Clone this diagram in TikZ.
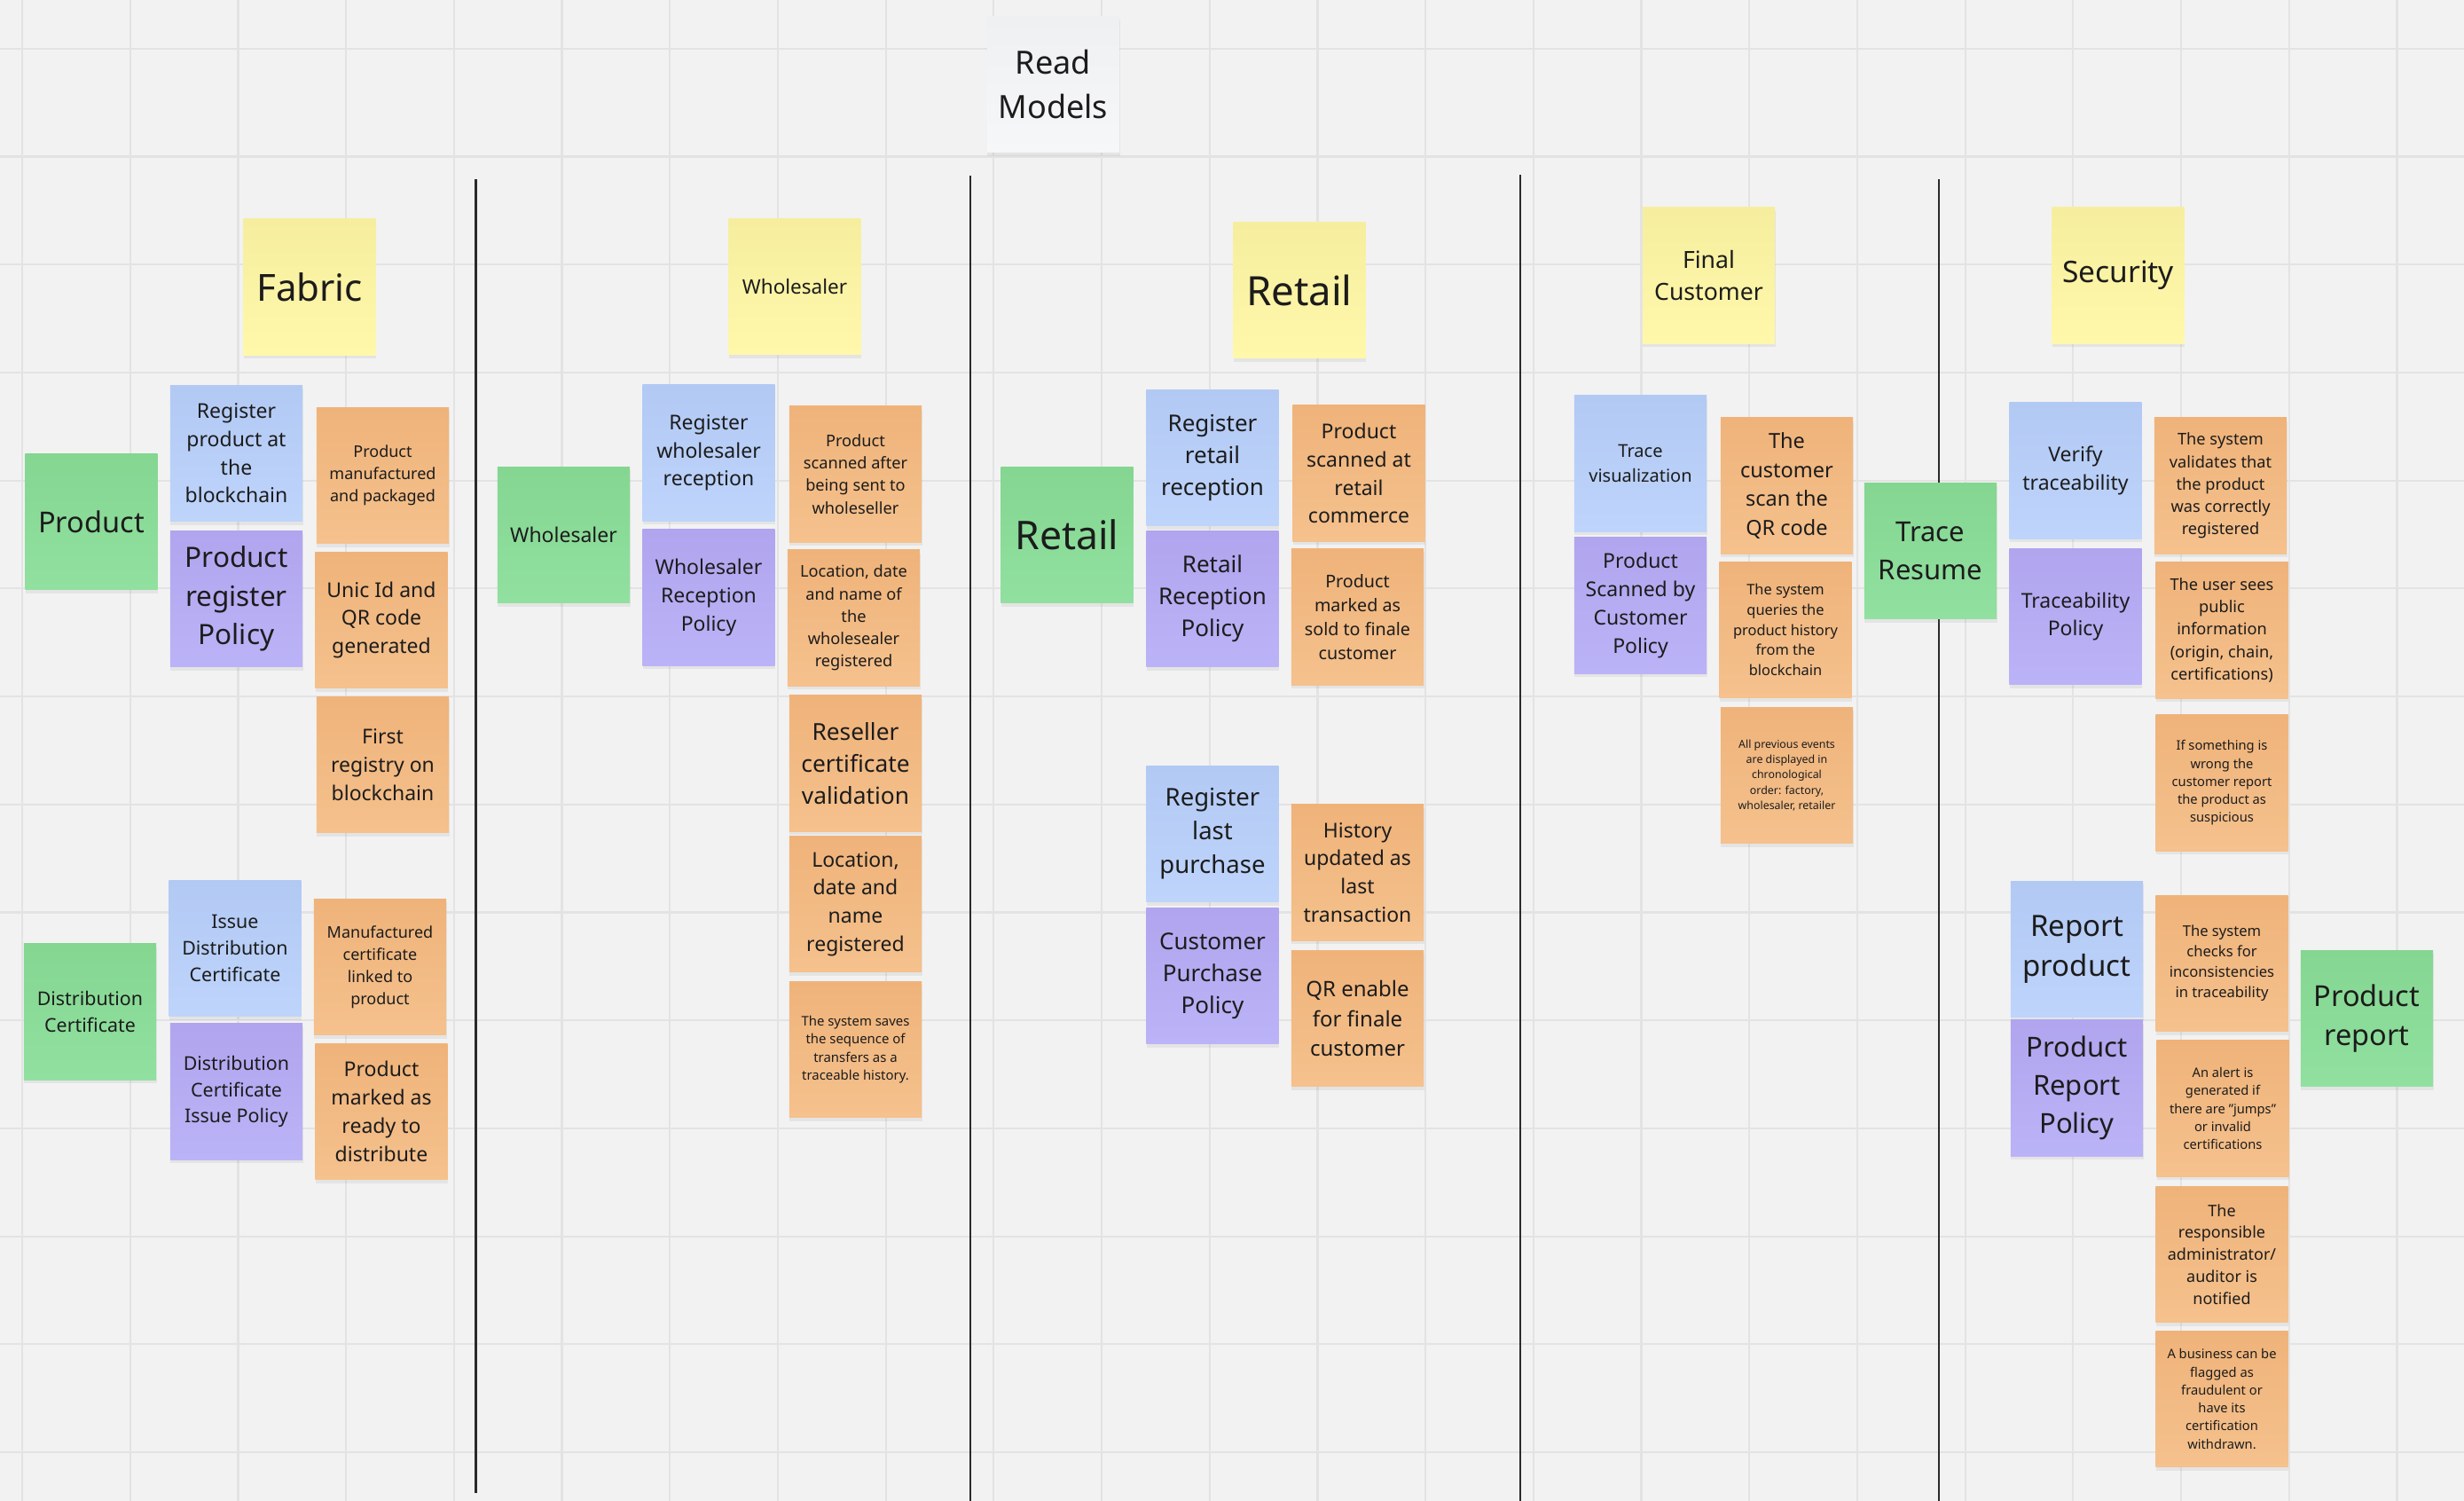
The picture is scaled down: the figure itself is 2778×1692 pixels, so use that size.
\documentclass[tikz,border=0pt]{standalone}
\usepackage{fontspec}
\setmainfont{Noto Sans}
\usetikzlibrary{shadows}

\definecolor{board}{HTML}{F2F2F2}
\definecolor{gridc}{HTML}{E3E3E3}
\definecolor{lanec}{HTML}{2A2A2A}
\definecolor{ink}{HTML}{1C1C1C}
\definecolor{eventtop}{HTML}{EFB37A}
\definecolor{eventbot}{HTML}{F5C18D}
\definecolor{commandtop}{HTML}{B2C9F4}
\definecolor{commandbot}{HTML}{BED4FB}
\definecolor{policytop}{HTML}{B0A5EE}
\definecolor{policybot}{HTML}{BBB3F7}
\definecolor{viewtop}{HTML}{84D691}
\definecolor{viewbot}{HTML}{91E0A0}
\definecolor{actortop}{HTML}{F6EE9E}
\definecolor{actorbot}{HTML}{FFF8AB}
\definecolor{labeltop}{HTML}{EFF0F2}
\definecolor{labelbot}{HTML}{F6F7F9}

\newcommand{\pxfont}[1]{\fontsize{\fpeval{#1*0.2845}}{\fpeval{#1*0.2845*1.38}}\selectfont}

\tikzset{
  sticky/.style={minimum width=1.49cm,minimum height=1.53cm,inner sep=0pt,align=center,text=ink,
    drop shadow={opacity=0.12,shadow xshift=0.005cm,shadow yshift=-0.04cm}},
  fs/.style={font=\pxfont{#1}},
  eventnote/.style={sticky,top color=eventtop,bottom color=eventbot},
  commandnote/.style={sticky,top color=commandtop,bottom color=commandbot},
  policynote/.style={sticky,top color=policytop,bottom color=policybot},
  viewnote/.style={sticky,top color=viewtop,bottom color=viewbot},
  actornote/.style={sticky,top color=actortop,bottom color=actorbot},
  labelnote/.style={sticky,top color=labeltop,bottom color=labelbot},
  gridline/.style={gridc,line width=0.022cm},
  lane/.style={lanec,line width=0.028cm}
}

\begin{document}
\begin{tikzpicture}[x=0.01cm,y=-0.01cm]
        \fill[board] (0,0) rectangle (2778,1692);
        \useasboundingbox (0,0) rectangle (2778,1692);
        \foreach \gx in {0,...,22}{
            \draw[gridline] (25+121.7*\gx,0) -- (25+121.7*\gx,1692);
        }
        \foreach \gy in {0,...,13}{
            \draw[gridline] (0,54.9+121.7*\gy) -- (2778,54.9+121.7*\gy);
        }
        \draw[lane] (536.5,202) -- (536.5,1683);
        \draw[lane] (1094,198) -- (1094,1692);
        \draw[lane] (1714,197) -- (1714,1692);
        \draw[lane] (2186,202) -- (2186,1692);

        \node[labelnote,fs=36] (readmodels) at (1187.5,95) {Read\\Models};

        \node[actornote,fs=42] (fabric) at (349,323.5) {Fabric};
        \node[viewnote,fs=32.5] (product) at (103,588) {Product};
        \node[commandnote,fs=23] (registerproduct) at (266.5,511) {Register\\product at\\the\\blockchain};
        \node[policynote,fs=31.5] (productpolicy) at (266.5,675) {Product\\register\\Policy};
        \node[eventnote,fs=18] (manufactured) at (431.5,536) {Product\\manufactured\\and packaged};
        \node[eventnote,fs=23] (qrgenerated) at (430,699) {Unic Id and\\QR code\\generated};
        \node[eventnote,fs=23] (firstregistry) at (431.5,862) {First\\registry on\\blockchain};
        \node[viewnote,fs=21.4] (distcert) at (101.5,1140.5) {Distribution\\Certificate};
        \node[commandnote,fs=21.4] (issuecert) at (265,1069) {Issue\\Distribution\\Certificate};
        \node[policynote,fs=21.4] (issuepolicy) at (266.5,1230.5) {Distribution\\Certificate\\Issue Policy};
        \node[eventnote,fs=18] (certlinked) at (428.5,1090) {Manufactured\\certificate\\linked to\\product};
        \node[eventnote,fs=23] (readydist) at (430,1253) {Product\\marked as\\ready to\\distribute};

        \node[actornote,fs=22.5] (wholesaler) at (896,323) {Wholesaler};
        \node[viewnote,fs=23] (wholesalerview) at (635.5,603) {Wholesaler};
        \node[commandnote,fs=23] (registerwholesaler) at (799,510.5) {Register\\wholesaler\\reception};
        \node[policynote,fs=23] (wholesalerpolicy) at (799,673.5) {Wholesaler\\Reception\\Policy};
        \node[eventnote,fs=18.2] (scannedsent) at (964.5,534.5) {Product\\scanned after\\being sent to\\wholeseller};
        \node[eventnote,fs=18.2] (wholesalerdata) at (962.5,696.5) {Location, date\\and name of\\the\\wholesealer\\registered};
        \node[eventnote,fs=26.3] (resellercert) at (964.5,860.5) {Reseller\\certificate\\validation};
        \node[eventnote,fs=23] (locationreg) at (964.5,1019) {Location,\\date and\\name\\registered};
        \node[eventnote,fs=14.9] (transfers) at (964.5,1183) {The system saves\\the sequence of\\transfers as a\\traceable history.};

        \node[actornote,fs=45.5] (retail) at (1465,327) {Retail};
        \node[viewnote,fs=44.5] (retailview) at (1203,603) {Retail};
        \node[commandnote,fs=26] (registerretail) at (1367,516) {Register\\retail\\reception};
        \node[policynote,fs=26] (retailpolicy) at (1367,675) {Retail\\Reception\\Policy};
        \node[eventnote,fs=23] (scannedretail) at (1532,533.5) {Product\\scanned at\\retail\\commerce};
        \node[eventnote,fs=19.7] (soldfinal) at (1530.5,695.5) {Product\\marked as\\sold to finale\\customer};
        \node[commandnote,fs=27.5] (registerpurchase) at (1367,940) {Register\\last\\purchase};
        \node[policynote,fs=26] (purchasepolicy) at (1367,1100) {Customer\\Purchase\\Policy};
        \node[eventnote,fs=23] (historyupdated) at (1530.5,983.5) {History\\updated as\\last\\transaction};
        \node[eventnote,fs=24] (qrenabled) at (1530.5,1148) {QR enable\\for finale\\customer};

        \node[actornote,fs=26.6] (finalcustomer) at (1926.5,310.5) {Final\\Customer};
        \node[commandnote,fs=20] (tracevis) at (1849.5,522.5) {Trace\\visualization};
        \node[policynote,fs=23] (scanpolicy) at (1849.5,682.5) {Product\\Scanned by\\Customer\\Policy};
        \node[eventnote,fs=23.5] (customerscan) at (2014.5,547.5) {The\\customer\\scan the\\QR code};
        \node[eventnote,fs=16.4] (historyquery) at (2013,710) {The system\\queries the\\product history\\from the\\blockchain};
        \node[eventnote,fs=12.4] (eventsshown) at (2014.5,874) {All previous events\\are displayed in\\chronological\\order: factory,\\wholesaler, retailer};

        \node[actornote,fs=33.5] (security) at (2388,310.5) {Security};
        \node[viewnote,fs=31] (traceresume) at (2176.5,621) {Trace\\Resume};
        \node[commandnote,fs=23] (verify) at (2340,530.5) {Verify\\traceability};
        \node[policynote,fs=23] (tracepolicy) at (2340,695) {Traceability\\Policy};
        \node[eventnote,fs=18.2] (validated) at (2503.5,547.5) {The system\\validates that\\the product\\was correctly\\registered};
        \node[eventnote,fs=18.2] (publicinfo) at (2505,710.5) {The user sees\\public\\information\\(origin, chain,\\certifications)};
        \node[eventnote,fs=14.7] (suspicious) at (2505,882.5) {If something is\\wrong the\\customer report\\the product as\\suspicious};
        \node[commandnote,fs=33] (reportproduct) at (2341.5,1070) {Report\\product};
        \node[policynote,fs=31] (reportpolicy) at (2341.5,1226.5) {Product\\Report\\Policy};
        \node[eventnote,fs=16.6] (inconsistency) at (2505,1086) {The system\\checks for\\inconsistencies\\in traceability};
        \node[eventnote,fs=14.7] (alert) at (2506,1249.5) {An alert is\\generated if\\there are {\char34}jumps{\char34}\\or invalid\\certifications};
        \node[eventnote,fs=18] (notified) at (2505,1414) {The\\responsible\\administrator/\\auditor is\\notified};
        \node[eventnote,fs=14.7] (flagged) at (2505,1577) {A business can be\\flagged as\\fraudulent or\\have its\\certification\\withdrawn.};
        \node[viewnote,fs=32.5] (productreport) at (2668.5,1148) {Product\\report};
\end{tikzpicture}
\end{document}
